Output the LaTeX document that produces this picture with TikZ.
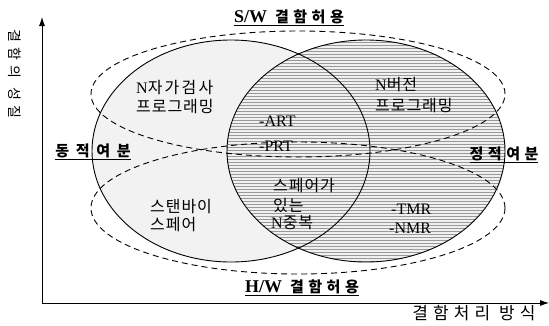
\documentclass[tikz,border=0pt]{standalone}
\usepackage{fontspec}
\setmainfont{Liberation Serif}
\newfontfamily\krA[LetterSpace=6]{Noto Sans CJK KR}
\newfontfamily\krN[LetterSpace=14]{Noto Sans CJK KR}
\newfontfamily\krH[LetterSpace=30]{Noto Sans CJK KR}
\newfontfamily\krD[LetterSpace=45]{Noto Sans CJK KR}
\newfontfamily\krX[LetterSpace=30]{Noto Sans CJK KR}
\newfontfamily\krY[LetterSpace=38]{Noto Sans CJK KR}
\usetikzlibrary{arrows.meta,patterns}
\tikzset{
  lbl/.style={inner sep=0pt, font=\krA\fontsize{16}{18}\selectfont},
  head/.style={inner sep=0pt, font=\krH\bfseries\fontsize{15}{17}\selectfont},
  lat/.style={inner sep=0pt, font=\fontsize{16}{18}\selectfont},
  solidell/.style={line width=0.9pt},
  dashell/.style={line width=0.9pt, dash pattern=on 6pt off 4pt},
  axis/.style={line width=0.8pt}
}
\begin{document}
\begin{tikzpicture}[x=1pt,y=-1pt]
\useasboundingbox (0,0) rectangle (549,325);
% fills
\fill[gray!10] (231,151) ellipse [x radius=139pt, y radius=111pt];
\fill[gray!12] (366,151) ellipse [x radius=139pt, y radius=111pt];
\fill[pattern=horizontal lines, pattern color=gray!80] (366,151) ellipse [x radius=139pt, y radius=111pt];
% solid ellipses
\draw[solidell] (231,151) ellipse [x radius=139pt, y radius=111pt];
\draw[solidell] (366,151) ellipse [x radius=139pt, y radius=111pt];
% dashed ellipses
\draw[dashell] (298,94) ellipse [x radius=207pt, y radius=63pt];
\draw[dashell] (298,208) ellipse [x radius=207pt, y radius=66pt];
% axes
\coordinate (ytop) at (42,17);
\coordinate (o) at (42,303);
\coordinate (xend) at (549,303);
\draw[axis, {Latex[length=9pt,width=6pt]}-{Latex[length=9pt,width=6pt]}] (ytop) -- (o) -- (xend);
% labels
\node[inner sep=0pt, rotate=-90, font=\krY\fontsize{14}{16}\selectfont] (yl) at (15,74) {결함의 성질};
\node[inner sep=0pt, font=\krX\fontsize{17}{19}\selectfont] (xl) at (474,313) {결함처리 방식};
\node[head] (sw) at (289,18) {\underline{{\rmfamily\fontsize{18}{20}\selectfont S/W} 결함허용}};
\node[head] (hw) at (302,288) {\underline{{\rmfamily\fontsize{18}{20}\selectfont H/W} 결함허용}};
\node[head, font=\krD\bfseries\fontsize{15}{17}\selectfont] (dyn) at (93,152) {\underline{동적여분}};
\node[head] (stat) at (504,155) {\underline{정적여분}};
\node[lbl, anchor=west, font=\krN\fontsize{16}{18}\selectfont] (ns1) at (136,88) {{\rmfamily N}자가검사};
\node[lbl, anchor=west] (ns2) at (136,107) {프로그래밍};
\node[lbl, anchor=west] (nv1) at (375,85) {{\rmfamily N}버전};
\node[lbl, anchor=west] (nv2) at (375,106) {프로그래밍};
\node[lat, anchor=west] (art) at (259,121) {-ART};
\node[lat, anchor=west] (prt) at (259,146) {-PRT};
\node[lbl, anchor=west] (sp1) at (273,186) {스페어가};
\node[lbl, anchor=west] (sp2) at (273,205) {있는};
\node[lbl, anchor=west] (sp3) at (271,223) {{\rmfamily N}중복};
\node[lbl, anchor=west] (sb1) at (150,207) {스탠바이};
\node[lbl, anchor=west] (sb2) at (150,225) {스페어};
\node[lat, anchor=west] (tmr) at (391,209) {-TMR};
\node[lat, anchor=west] (nmr) at (389,228) {-NMR};
\end{tikzpicture}
\end{document}
